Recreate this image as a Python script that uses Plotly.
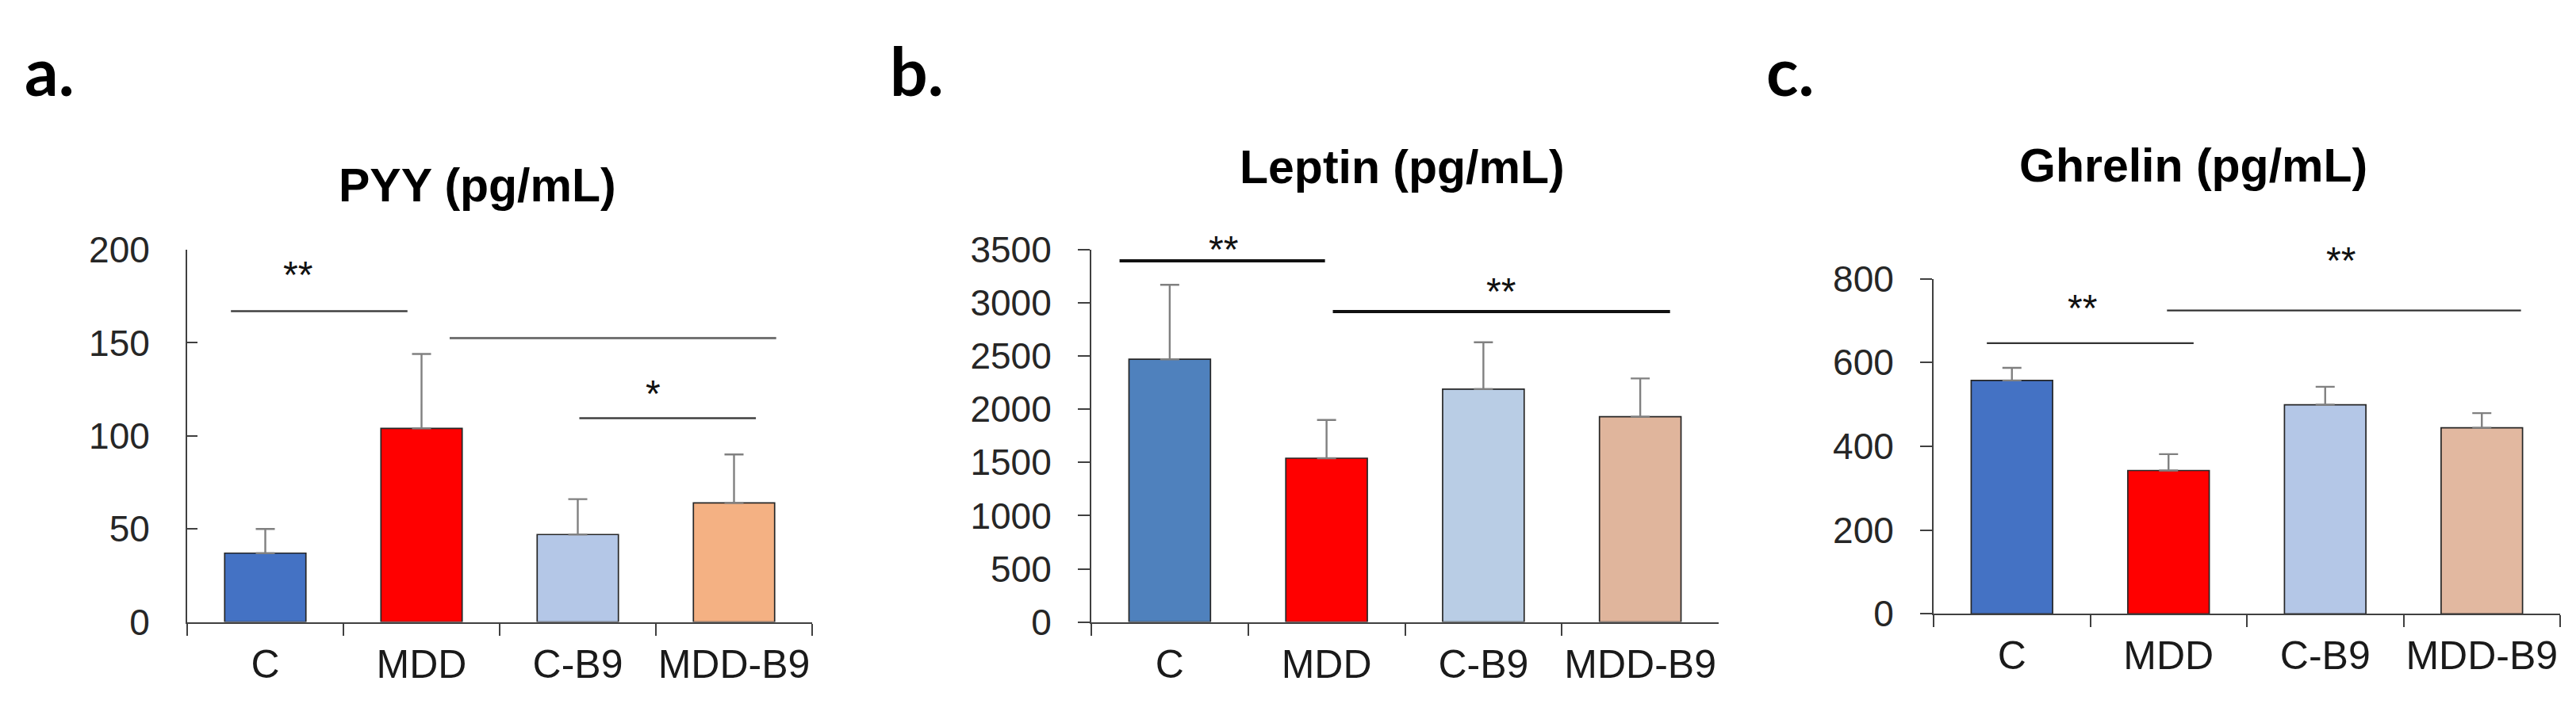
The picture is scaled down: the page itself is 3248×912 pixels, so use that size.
import plotly.graph_objects as go
from plotly.subplots import make_subplots

# groups on the x axis
groups = ["C", "MDD", "C-B9", "MDD-B9"]

# means and upper error bars
pyy_mean = [37, 104, 47, 64]
pyy_err = [13, 40, 19, 26]
leptin_mean = [2470, 1540, 2190, 1930]
leptin_err = [700, 360, 440, 360]
ghrelin_mean = [557, 342, 499, 444]
ghrelin_err = [30, 39, 43, 35]

colors_a = ["#4472C4", "#FF0000", "#B4C7E7", "#F4B183"]
colors_b = ["#4F81BD", "#FF0000", "#B9CDE5", "#E0B59C"]
colors_c = ["#4472C4", "#FF0000", "#B4C7E7", "#E2B8A0"]

# significance bars: x from, x to, y of line, stars, x of stars, y of stars
sig_a = [(-0.22, 0.91, 167, "**", 0.21, 191),
         (1.18, 3.27, 152.5, "", None, None),
         (2.01, 3.14, 109.5, "*", 2.48, 127)]
sig_b = [(-0.32, 0.99, 3395, "**", 0.34, 3577),
         (1.04, 3.19, 2918, "**", 2.11, 3184)]
sig_c = [(-0.16, 1.16, 646, "**", 0.45, 748),
         (0.99, 3.25, 724, "**", 2.10, 862)]

panels = [
    ("a.", "PYY (pg/mL)", pyy_mean, pyy_err, colors_a, sig_a, [0, 200], 50),
    ("b.", "Leptin (pg/mL)", leptin_mean, leptin_err, colors_b, sig_b, [0, 3500], 500),
    ("c.", "Ghrelin (pg/mL)", ghrelin_mean, ghrelin_err, colors_c, sig_c, [0, 800], 200),
]

W, H = 3248, 912
x_dom = [(228, 1016), (1368, 2159), (2430, 3220)]
y_dom = [(796, 298), (796, 298), (785, 336.7)]
y_ticks = ["inside", "outside", "outside"]
title_pos = [(594, 212), (1760, 188), (2757, 186)]
label_x = [21, 1112, 2217]
line_styles = [
    [dict(color="#404040", width=2.6), dict(color="#737373", width=3), dict(color="#404040", width=2.6)],
    [dict(color="#111111", width=4), dict(color="#111111", width=4)],
    [dict(color="#333333", width=2.4), dict(color="#333333", width=2.4)],
]

fig = make_subplots(rows=1, cols=3)
tick_font = dict(family="Liberation Sans, Arial, sans-serif", size=46, color="#262626")

for i, (lab, title, mean, err, cols, sigs, yr, dt) in enumerate(panels):
    n = i + 1
    fig.add_trace(go.Bar(
        x=groups, y=mean, marker=dict(color=cols, line=dict(color="#262626", width=1.7)),
        error_y=dict(type="data", array=err, arrayminus=[0] * len(err), symmetric=False,
                     color="#808080", thickness=2.4, width=12),
        showlegend=False), row=1, col=n)

    xa = "xaxis" if n == 1 else f"xaxis{n}"
    ya = "yaxis" if n == 1 else f"yaxis{n}"
    fig.layout[xa].update(
        domain=[x_dom[i][0] / W, x_dom[i][1] / W], type="category", range=[-0.5, 3.5],
        showline=True, linecolor="#404040", linewidth=2, ticks="outside", ticklen=15,
        tickwidth=2, tickcolor="#404040", tickson="boundaries", showgrid=False,
        zeroline=False, tickangle=0,
        tickfont=dict(family="Liberation Sans, Arial, sans-serif", size=50, color="#1a1a1a"),
        ticklabelstandoff=8)
    fig.layout[ya].update(
        domain=[1 - y_dom[i][0] / H, 1 - y_dom[i][1] / H], range=yr, dtick=dt,
        showline=True, linecolor="#404040", linewidth=2, ticks=y_ticks[i],
        ticklen=13 if y_ticks[i] == "inside" else 15,
        tickwidth=2, tickcolor="#404040", showgrid=False, zeroline=False,
        tickfont=tick_font, ticklabelstandoff=36 if y_ticks[i] == "inside" else 24)

    xr = "x" if n == 1 else f"x{n}"
    yref = "y" if n == 1 else f"y{n}"
    for j, (x0, x1, yl, stars, xs, ys) in enumerate(sigs):
        fig.add_shape(type="line", xref=xr, yref=yref, x0=x0, x1=x1, y0=yl, y1=yl,
                      line=line_styles[i][j])
        if stars:
            # stars may sit above the axis top, so place them in domain units
            fig.add_annotation(x=(xs + 0.5) / 4, y=ys / yr[1], xref=xr + " domain",
                               yref=yref + " domain", text=stars, showarrow=False,
                               xanchor="center", yanchor="middle", yshift=-10,
                               font=dict(family="Liberation Sans, Arial, sans-serif",
                                         size=48, color="#111111"))

    fig.add_annotation(x=title_pos[i][0] / W, y=1 - title_pos[i][1] / H, xref="paper",
                       yref="paper", xanchor="center", yanchor="middle",
                       text="<b>" + title + "</b>", showarrow=False,
                       font=dict(family="Liberation Sans, Arial, sans-serif", size=59,
                                 color="#000000"))
    fig.add_annotation(x=label_x[i] / W, y=1 - 58 / H, xref="paper", yref="paper",
                       xanchor="left", yanchor="middle", text="<b>" + lab + "</b>",
                       showarrow=False,
                       font=dict(family="Lato, sans-serif", size=84, color="#000000"))

fig.update_layout(width=W, height=H, margin=dict(l=0, r=0, t=0, b=0),
                  paper_bgcolor="white", plot_bgcolor="white", bargap=0.48)

fig.write_html("out.html")
